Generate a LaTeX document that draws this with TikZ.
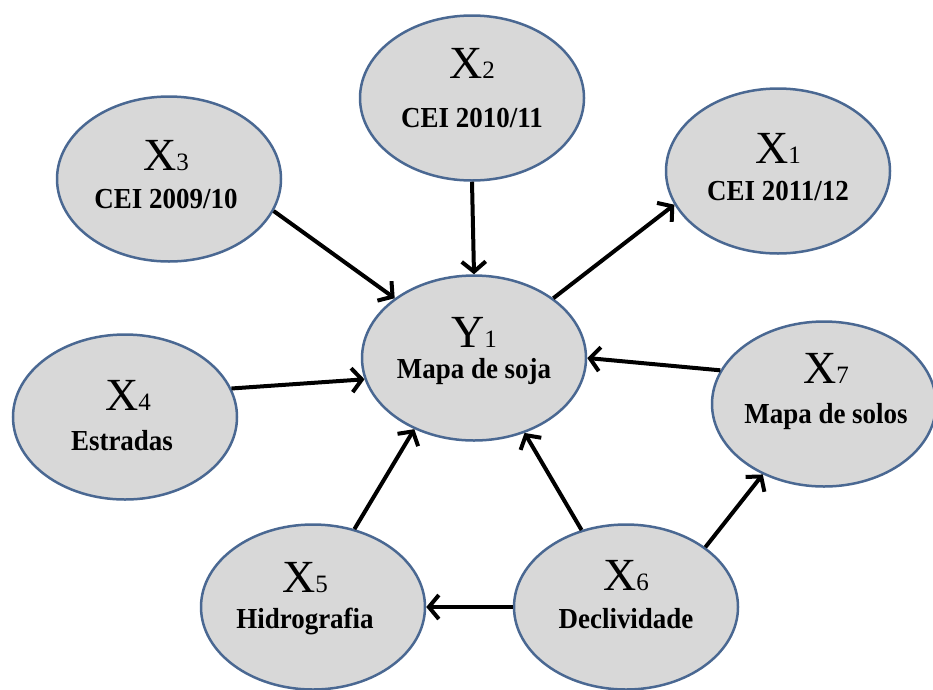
\documentclass[tikz,border=0pt]{standalone}
\usepackage{fontspec}
\setmainfont{Liberation Serif}
\newfontfamily\lblfont[FakeStretch=0.93]{Liberation Serif}
\usetikzlibrary{shapes.geometric,arrows.meta}
\definecolor{ellfill}{RGB}{216,216,216}
\definecolor{elldraw}{RGB}{74,104,146}
\newcommand\subdig[1]{{\fontsize{25}{25}\selectfont #1}}
\tikzset{
  var/.style={ellipse, draw=elldraw, fill=ellfill, line width=2.5pt,
    minimum width=224pt, minimum height=165pt, inner sep=0pt},
  sym/.style={anchor=base, inner sep=0pt, font=\fontsize{46}{46}\selectfont},
  lbl/.style={anchor=base, inner sep=0pt, font=\lblfont\fontsize{29}{29}\selectfont\bfseries},
  conn/.style={line width=4pt, -{Straight Barb[length=10pt,width=24pt]}}
}
\begin{document}
\begin{tikzpicture}[x=1pt,y=-1pt]
\path[use as bounding box] (0,0) rectangle (933,689);
% ellipses
\node[var] (x3) at (169,179) {};
\node[var] (x2) at (472,98) {};
\node[var] (x1) at (778,171) {};
\node[var] (y1) at (474,358) {};
\node[var] (x4) at (125,417) {};
\node[var] (x7) at (824,404) {};
\node[var] (x5) at (313,607) {};
\node[var] (x6) at (626,607) {};
% texts
\node[sym] (x3s) at (166,170) {X\subdig{3}};
\node[lbl] (x3t) at (166,208) {CEI 2009/10};
\node[sym] (x2s) at (472,78) {X\subdig{2}};
\node[lbl] (x2t) at (472,127) {CEI 2010/11};
\node[sym] (x1s) at (778,163) {X\subdig{1}};
\node[lbl] (x1t) at (778,200) {CEI 2011/12};
\node[sym] (y1s) at (474,347) {Y\subdig{1}};
\node[lbl] (y1t) at (474,378) {Mapa de soja};
\node[sym] (x4s) at (128,410) {X\subdig{4}};
\node[lbl] (x4t) at (122,450) {Estradas};
\node[sym] (x7s) at (826,383) {X\subdig{7}};
\node[lbl] (x7t) at (826,423) {Mapa de solos};
\node[sym] (x5s) at (305,592) {X\subdig{5}};
\node[lbl] (x5t) at (305,628) {Hidrografia};
\node[sym] (x6s) at (626,590) {X\subdig{6}};
\node[lbl] (x6t) at (626,628) {Declividade};
% connectors
\draw[conn] (x3.-17) -- (y1.143);
\draw[conn] (x2.south) -- (y1.north);
\draw[conn] (y1.37) -- (x1.-162);
\draw[conn] (x4.15) -- (y1.191);
\draw[conn] (x7.162) -- (y1.0);
\draw[conn] (x5.62) -- (y1.230);
\draw[conn] (x6.120) -- (y1.-56);
\draw[conn] (x6.37) -- (x7.229);
\draw[conn] (x6.west) -- (x5.east);
\end{tikzpicture}
\end{document}
